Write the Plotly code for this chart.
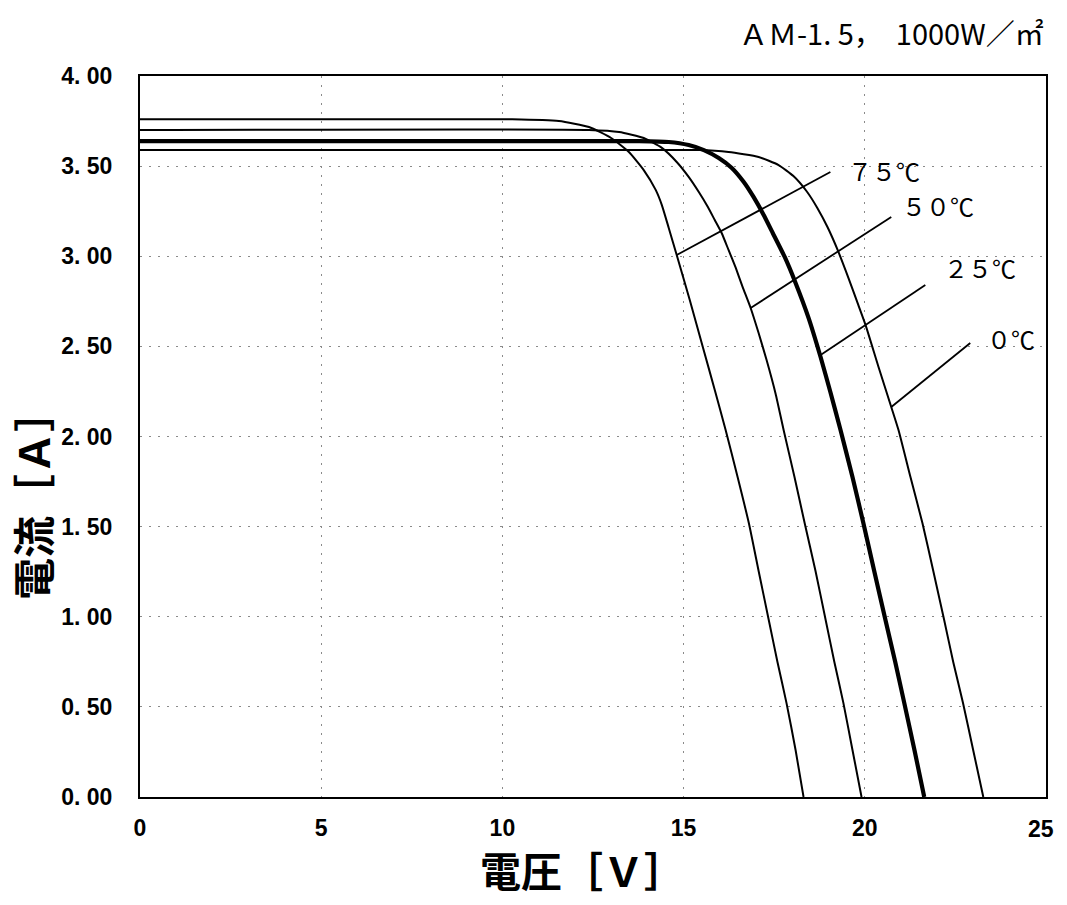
import plotly.graph_objects as go

# ---- data (voltage [V], current [A]) ----
v_75 = [0, 10.27, 11.56, 12.39, 13.00, 13.49, 13.90, 14.23, 14.40, 14.59, 14.81, 15.17, 15.53, 15.86, 16.16,
        16.49, 16.80, 17.07, 17.35, 17.59, 17.84, 18.09, 18.31]
i_75 = [3.76, 3.76, 3.750, 3.717, 3.656, 3.578, 3.478, 3.368, 3.284, 3.157, 3.007, 2.757, 2.497, 2.258, 2.036,
        1.775, 1.520, 1.254, 0.982, 0.749, 0.521, 0.261, 0.0]

v_50 = [0, 12.39, 13.22, 13.90, 14.40, 14.81, 15.14, 15.42, 15.67, 15.86, 16.05, 16.24, 16.44, 16.63, 16.85,
        17.07, 17.29, 17.54, 17.76, 18.06, 18.34, 18.64, 18.92, 19.16, 19.41, 19.66, 19.91]
i_50 = [3.700, 3.700, 3.689, 3.656, 3.601, 3.523, 3.440, 3.356, 3.273, 3.201, 3.129, 3.035, 2.935, 2.829, 2.713,
        2.574, 2.424, 2.236, 2.036, 1.775, 1.520, 1.254, 0.982, 0.749, 0.521, 0.261, 0.0]

v_25 = [0, 13.77, 14.59, 15.14, 15.56, 15.97, 16.33, 16.66, 16.93, 17.21, 17.46, 17.79, 18.09, 18.45, 18.78,
        19.05, 19.33, 19.66, 19.96, 20.26, 20.57, 20.84, 21.09, 21.37, 21.64]
i_25 = [3.639, 3.639, 3.634, 3.617, 3.589, 3.545, 3.490, 3.412, 3.329, 3.229, 3.129, 2.996, 2.852, 2.657, 2.441,
        2.247, 2.036, 1.775, 1.520, 1.254, 0.982, 0.749, 0.521, 0.261, 0.0]

v_0 = [0, 15.42, 16.24, 17.07, 17.62, 18.03, 18.39, 18.69, 18.97, 19.25, 19.55, 19.82, 20.02, 20.37, 20.73,
       20.93, 21.26, 21.59, 21.89, 22.19, 22.44, 22.71, 22.99, 23.27]
i_0 = [3.589, 3.589, 3.578, 3.551, 3.506, 3.445, 3.362, 3.268, 3.162, 3.035, 2.879, 2.730, 2.619, 2.391, 2.164,
       2.036, 1.775, 1.520, 1.254, 0.982, 0.749, 0.521, 0.261, 0.0]

labels = ["７５℃", "５０℃", "２５℃", "０℃"]
# leader line start (on curve) and end, and label anchor (data units)
leader_v0 = [14.81, 16.85, 18.76, 20.73]
leader_i0 = [3.007, 2.713, 2.450, 2.164]
leader_v1 = [19.05, 20.73, 21.67, 22.91]
leader_i1 = [3.467, 3.218, 2.840, 2.519]
label_v = [19.47, 20.98, 22.14, 23.32]
label_i = [3.478, 3.284, 2.935, 2.546]

x_ticks = [0, 5, 10, 15, 20, 25]
x_ticktext = ["0", "5", "10", "15", "20", "25"]
y_ticks = [0, 0.5, 1.0, 1.5, 2.0, 2.5, 3.0, 3.5, 4.0]
y_ticktext = ["0. 00", "0. 50", "1. 00", "1. 50", "2. 00", "2. 50", "3. 00", "3. 50", "4. 00"]

fig = go.Figure()

curves = [(v_75, i_75, 2), (v_50, i_50, 2), (v_25, i_25, 4.2), (v_0, i_0, 2)]
for v, i, w in curves:
    fig.add_trace(go.Scatter(x=v, y=i, mode="lines",
                             line=dict(color="black", width=w, shape="spline", smoothing=0.5),
                             showlegend=False, hoverinfo="skip"))

for k in range(len(labels)):
    fig.add_trace(go.Scatter(x=[leader_v0[k], leader_v1[k]], y=[leader_i0[k], leader_i1[k]], mode="lines",
                             line=dict(color="black", width=1.8), showlegend=False, hoverinfo="skip"))
    fig.add_annotation(x=label_v[k], y=label_i[k], text=labels[k], showarrow=False, xanchor="left",
                       yanchor="middle",
                       font=dict(family="Noto Sans CJK JP, sans-serif", size=24, color="black"))

cjk = "Noto Sans CJK JP, sans-serif"
fig.add_annotation(xref="paper", yref="paper", x=1.0, y=1.061, xanchor="right", yanchor="middle",
                   text="ＡＭ-1. 5，  1000W／㎡", showarrow=False,
                   font=dict(family=cjk, size=29, color="black"))

# axis titles
fig.add_annotation(xref="paper", yref="paper", x=0.488, y=-0.100, xanchor="center", yanchor="middle",
                   text="電圧［Ｖ］", showarrow=False,
                   font=dict(family=cjk, size=41, color="black", weight="bold"))
fig.add_annotation(xref="paper", yref="paper", x=-0.119, y=0.419, xanchor="center", yanchor="middle",
                   text="電流［Ａ］", showarrow=False, textangle=-90,
                   font=dict(family=cjk, size=42, color="black", weight="bold"))

tick_font = dict(family="Liberation Sans, Arial, sans-serif", size=23, color="black", weight="bold")
grid_kw = dict(showgrid=True, gridcolor="#8a8a8a", griddash="2px,7px", gridwidth=1)

# the last x tick label sits at the very edge of the page: draw it as an annotation so the
# axis does not shrink the plot area to make room for it
shown_xtext = x_ticktext[:-1] + [""]
fig.add_annotation(x=x_ticks[-1], xref="x", yref="paper", y=0, yanchor="top", xanchor="center",
                   xshift=-5, yshift=-17, text=x_ticktext[-1], showarrow=False, font=tick_font)

fig.update_xaxes(range=[0, 25], tickvals=x_ticks, ticktext=shown_xtext, tickfont=tick_font, **grid_kw,
                 showline=True, linecolor="black", linewidth=2, mirror=True, zeroline=False,
                 ticks="", ticklabelstandoff=9)
fig.update_yaxes(range=[0, 4], tickvals=y_ticks, ticktext=y_ticktext, tickfont=tick_font, **grid_kw,
                 showline=True, linecolor="black", linewidth=2, mirror=True, zeroline=False,
                 ticks="", ticklabelstandoff=21)

fig.update_layout(width=1051, height=889, margin=dict(l=132, r=11, t=68, b=100),
                  plot_bgcolor="white", paper_bgcolor="white")

fig.write_html("out.html")
